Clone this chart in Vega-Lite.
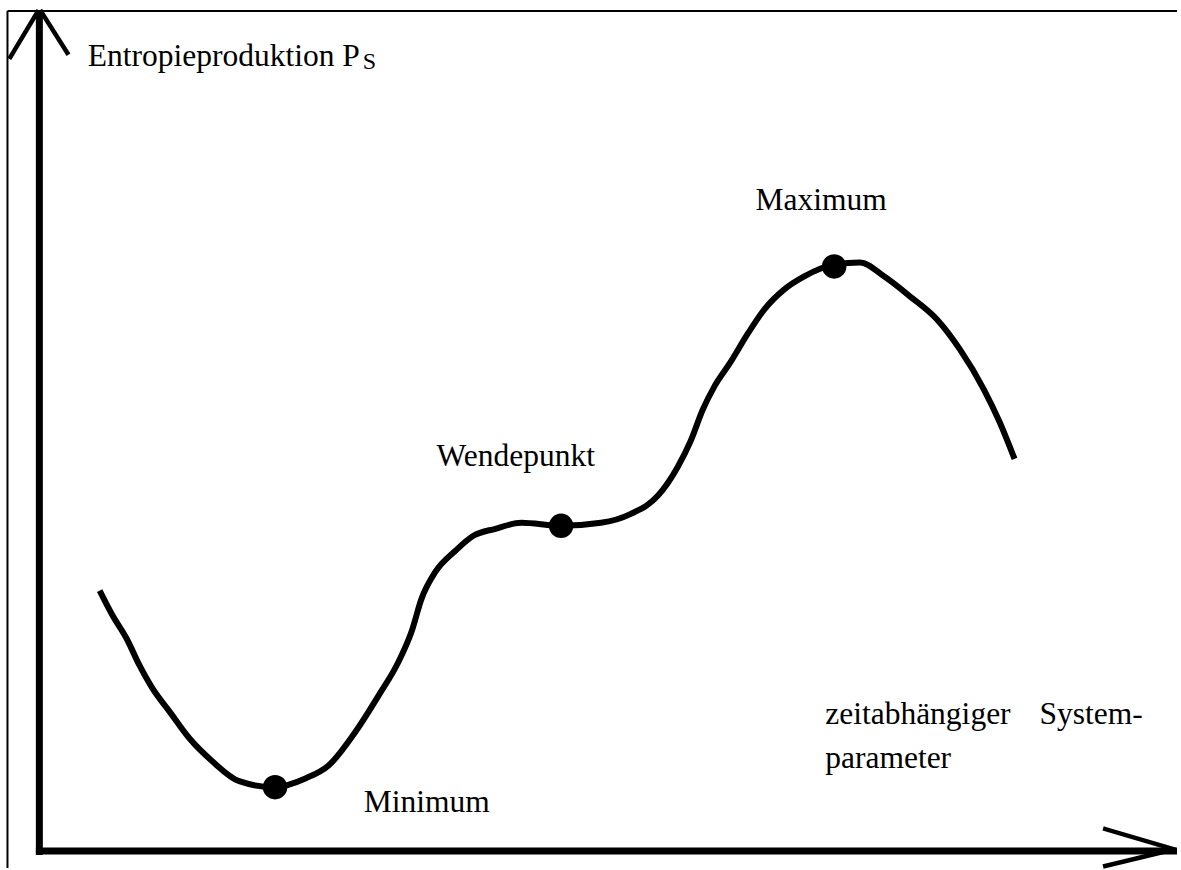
{
  "$schema": "https://vega.github.io/schema/vega-lite/v6.json",
  "width": 1181,
  "height": 870,
  "padding": 0,
  "autosize": {"type": "fit", "contains": "padding"},
  "background": "white",
  "config": {"view": {"stroke": null}},
  "datasets": {
    "curve": [
      {"x": 6.0, "y": 26.1}, {"x": 7.3, "y": 23.6}, {"x": 8.7, "y": 21.3}, {"x": 10.0, "y": 18.6},
      {"x": 11.3, "y": 16.3}, {"x": 13.0, "y": 14.0}, {"x": 15.0, "y": 11.3}, {"x": 17.3, "y": 9.0},
      {"x": 20.0, "y": 7.0}, {"x": 23.5, "y": 6.4}, {"x": 26.7, "y": 7.3}, {"x": 29.0, "y": 8.6},
      {"x": 31.7, "y": 12.0}, {"x": 34.0, "y": 15.6}, {"x": 36.0, "y": 19.0}, {"x": 37.3, "y": 22.0},
      {"x": 38.3, "y": 25.3}, {"x": 39.7, "y": 28.0}, {"x": 41.7, "y": 30.1}, {"x": 43.5, "y": 31.6},
      {"x": 45.7, "y": 32.3}, {"x": 48.3, "y": 32.9}, {"x": 52.3, "y": 32.6}, {"x": 56.3, "y": 32.9},
      {"x": 59.3, "y": 33.8}, {"x": 62.0, "y": 35.6}, {"x": 64.0, "y": 38.5}, {"x": 65.3, "y": 41.1},
      {"x": 66.5, "y": 44.2}, {"x": 67.7, "y": 46.6}, {"x": 69.3, "y": 49.0}, {"x": 71.0, "y": 51.8},
      {"x": 72.7, "y": 54.3}, {"x": 74.7, "y": 56.3}, {"x": 76.7, "y": 57.6}, {"x": 79.8, "y": 58.8},
      {"x": 82.3, "y": 59.0}, {"x": 84.7, "y": 57.6}, {"x": 87.3, "y": 55.6}, {"x": 90.0, "y": 53.3},
      {"x": 92.3, "y": 50.3}, {"x": 94.7, "y": 46.3}, {"x": 96.3, "y": 43.0}, {"x": 97.8, "y": 39.3}
    ],
    "dots": [
      {"x": 23.6, "y": 6.4, "name": "Minimum"},
      {"x": 52.3, "y": 32.6, "name": "Wendepunkt"},
      {"x": 79.7, "y": 58.6, "name": "Maximum"}
    ],
    "axes": [
      {"x": -0.05, "y": -0.4, "x2": -0.05, "y2": 84.2},
      {"x": -0.4, "y": 0.0, "x2": 114.1, "y2": 0.0}
    ],
    "arrows": [
      {"x": -0.25, "y": 84.1, "x2": -2.95, "y2": 79.6},
      {"x": 0.15, "y": 84.1, "x2": 2.75, "y2": 80.0},
      {"x": 106.9, "y": 2.2, "x2": 113.7, "y2": 0.2},
      {"x": 106.9, "y": -1.5, "x2": 112.7, "y2": -0.1}
    ],
    "frame": [
      {"x": -3.25, "y": 84.2, "x2": 114.1, "y2": 84.2},
      {"x": -3.25, "y": -1.7, "x2": -3.25, "y2": 84.2}
    ],
    "labels": [
      {"x": 4.8, "y": 78.7, "text": "Entropieproduktion P"},
      {"x": 71.8, "y": 64.3, "text": "Maximum"},
      {"x": 39.8, "y": 38.6, "text": "Wendepunkt"},
      {"x": 32.5, "y": 3.9, "text": "Minimum"},
      {"x": 78.8, "y": 12.7, "text": "zeitabhängiger"},
      {"x": 100.3, "y": 12.7, "text": "System-"},
      {"x": 78.8, "y": 8.3, "text": "parameter"}
    ],
    "subscript": [
      {"x": 32.4, "y": 78.4, "text": "S"}
    ]
  },
  "layer": [
    {
      "data": {"name": "frame"},
      "mark": {"type": "rule", "color": "black", "strokeWidth": 2},
      "encoding": {
        "x": {"field": "x", "type": "quantitative", "scale": {"domain": [-4, 114.1], "nice": false, "zero": false}, "axis": null},
        "y": {"field": "y", "type": "quantitative", "scale": {"domain": [-1.7, 85.3], "nice": false, "zero": false}, "axis": null},
        "x2": {"field": "x2"},
        "y2": {"field": "y2"}
      }
    },
    {
      "data": {"name": "axes"},
      "mark": {"type": "rule", "color": "black", "strokeWidth": 7, "strokeCap": "butt"},
      "encoding": {
        "x": {"field": "x", "type": "quantitative", "axis": null},
        "y": {"field": "y", "type": "quantitative", "axis": null},
        "x2": {"field": "x2"},
        "y2": {"field": "y2"}
      }
    },
    {
      "data": {"name": "arrows"},
      "mark": {"type": "rule", "color": "black", "strokeWidth": 4.5, "strokeCap": "square"},
      "encoding": {
        "x": {"field": "x", "type": "quantitative", "axis": null},
        "y": {"field": "y", "type": "quantitative", "axis": null},
        "x2": {"field": "x2"},
        "y2": {"field": "y2"}
      }
    },
    {
      "data": {"name": "curve"},
      "mark": {"type": "line", "color": "black", "strokeWidth": 6, "interpolate": "monotone"},
      "encoding": {
        "x": {"field": "x", "type": "quantitative", "axis": null},
        "y": {"field": "y", "type": "quantitative", "axis": null}
      }
    },
    {
      "data": {"name": "dots"},
      "mark": {"type": "circle", "color": "black", "opacity": 1, "size": 600},
      "encoding": {
        "x": {"field": "x", "type": "quantitative", "axis": null},
        "y": {"field": "y", "type": "quantitative", "axis": null}
      }
    },
    {
      "data": {"name": "labels"},
      "mark": {"type": "text", "align": "left", "baseline": "alphabetic", "font": "Liberation Serif", "fontSize": 31.5, "color": "black"},
      "encoding": {
        "x": {"field": "x", "type": "quantitative", "axis": null},
        "y": {"field": "y", "type": "quantitative", "axis": null},
        "text": {"field": "text"}
      }
    },
    {
      "data": {"name": "subscript"},
      "mark": {"type": "text", "align": "left", "baseline": "alphabetic", "font": "Liberation Serif", "fontSize": 24, "color": "black"},
      "encoding": {
        "x": {"field": "x", "type": "quantitative", "axis": null},
        "y": {"field": "y", "type": "quantitative", "axis": null},
        "text": {"field": "text"}
      }
    }
  ]
}
